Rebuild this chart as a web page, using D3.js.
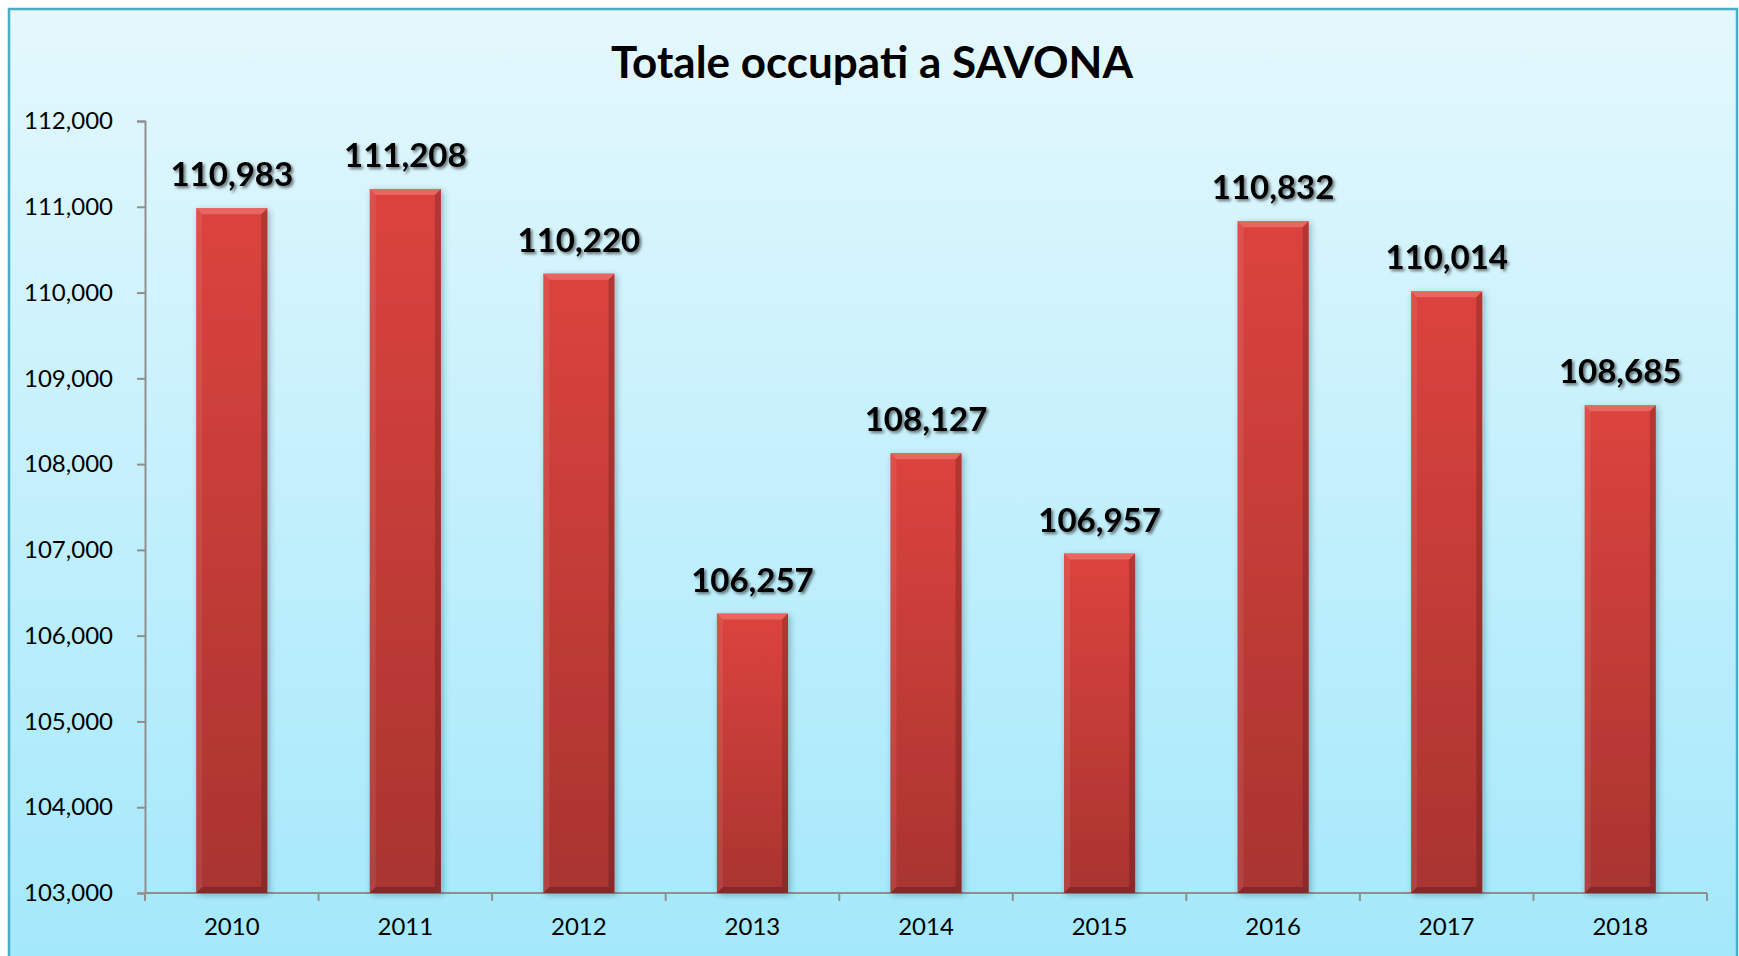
<!DOCTYPE html>
<html lang="it">
<head>
    <meta charset="UTF-8">
    <title>Totale occupati a SAVONA</title>
    <script src="https://cdnjs.cloudflare.com/ajax/libs/d3/7.8.5/d3.min.js"></script>
    <style>
        body {
            margin: 0;
            background: #fff;
            font-family: Lato, "Open Sans", sans-serif;
        }
        .tick-label {
            font-size: 24px;
            fill: #000;
        }
        .value-label {
            font-size: 33px;
            font-weight: bold;
            fill: #000;
        }
    </style>
</head>
<body>
    <div id="chart"></div>

    <script>
        // data
        const years = ["2010", "2011", "2012", "2013", "2014", "2015", "2016", "2017", "2018"];
        const occupati = [110983, 111208, 110220, 106257, 108127, 106957, 110832, 110014, 108685];
        const yTicks = [103000, 104000, 105000, 106000, 107000, 108000, 109000, 110000, 111000, 112000];
        const chartTitle = "Totale occupati a SAVONA";

        const W = 1739, H = 956;
        const plot = {left: 145, right: 1707, top: 121, bottom: 893};

        const svg = d3.select("#chart")
            .append("svg")
            .attr("width", W)
            .attr("height", H);

        const defs = svg.append("defs");

        // background gradient of the chart area
        const bg = defs.append("linearGradient")
            .attr("id", "bg").attr("x1", 0).attr("y1", 0).attr("x2", 0).attr("y2", 1);
        bg.append("stop").attr("offset", "0%").attr("stop-color", "#e4f8fd");
        bg.append("stop").attr("offset", "100%").attr("stop-color", "#a3e8fb");

        // bar face
        const barGrad = defs.append("linearGradient")
            .attr("id", "barGrad").attr("x1", 0).attr("y1", 0).attr("x2", 0).attr("y2", 1);
        barGrad.append("stop").attr("offset", "0%").attr("stop-color", "#dc433e");
        barGrad.append("stop").attr("offset", "100%").attr("stop-color", "#a93430");

        const barShadow = defs.append("filter").attr("id", "barShadow")
            .attr("x", "-20%").attr("y", "-10%").attr("width", "150%").attr("height", "130%");
        barShadow.append("feDropShadow")
            .attr("dx", 2).attr("dy", 2).attr("stdDeviation", 3)
            .attr("flood-color", "#203040").attr("flood-opacity", 0.35);

        const textShadow = defs.append("filter").attr("id", "textShadow")
            .attr("x", "-10%").attr("y", "-20%").attr("width", "130%").attr("height", "150%");
        textShadow.append("feDropShadow")
            .attr("dx", 2).attr("dy", 2).attr("stdDeviation", 1.5)
            .attr("flood-color", "#000").attr("flood-opacity", 0.55);

        const lineShadow = defs.append("filter").attr("id", "lineShadow");
        lineShadow.append("feDropShadow")
            .attr("dx", 0).attr("dy", 1).attr("stdDeviation", 0.6)
            .attr("flood-color", "#000").attr("flood-opacity", 0.25);

        // chart frame
        svg.append("rect")
            .attr("x", 9).attr("y", 9)
            .attr("width", 1728).attr("height", 960)
            .attr("fill", "url(#bg)")
            .attr("stroke", "#4bacc6")
            .attr("stroke-width", 2.5);

        svg.append("text")
            .attr("x", 872)
            .attr("y", 78)
            .attr("text-anchor", "middle")
            .style("font-size", "44px")
            .style("font-weight", "bold")
            .text(chartTitle);

        const x = d3.scaleBand()
            .domain(years)
            .range([plot.left, plot.right])
            .paddingInner(0.59)
            .paddingOuter(0.295);

        const y = d3.scaleLinear()
            .domain([103000, 112000])
            .range([plot.bottom, plot.top]);

        const fmt = d3.format(",");

        // gridlines
        svg.append("g")
            .selectAll("line")
            .data(yTicks.slice(1))
            .join("line")
            .attr("x1", plot.left)
            .attr("x2", plot.right)
            .attr("y1", d => y(d))
            .attr("y2", d => y(d))
            .attr("stroke", "#8c989d")
            .attr("stroke-width", 2)
            .attr("filter", "url(#lineShadow)");

        // y axis
        const yAxis = svg.append("g")
            .attr("transform", `translate(${plot.left},0)`)
            .call(d3.axisLeft(y).tickValues(yTicks).tickFormat(fmt).tickSize(8).tickPadding(24))
            .attr("font-family", null)
            .attr("font-size", null);
        yAxis.select(".domain").attr("stroke", "#8f8f8f").attr("stroke-width", 2);
        yAxis.selectAll(".tick line").attr("stroke", "#8f8f8f").attr("stroke-width", 2);
        yAxis.selectAll(".tick text").attr("class", "tick-label");

        // x axis: ticks at band boundaries
        const step = x.step();
        const boundaries = d3.range(years.length + 1).map(i => plot.left + i * step);
        const xAxis = svg.append("g");
        xAxis.append("line")
            .attr("x1", plot.left).attr("x2", plot.right)
            .attr("y1", plot.bottom).attr("y2", plot.bottom)
            .attr("stroke", "#8f8f8f").attr("stroke-width", 2);
        xAxis.selectAll("line.xt")
            .data(boundaries)
            .join("line")
            .attr("class", "xt")
            .attr("x1", d => d).attr("x2", d => d)
            .attr("y1", plot.bottom).attr("y2", plot.bottom + 8)
            .attr("stroke", "#8f8f8f").attr("stroke-width", 2);
        xAxis.selectAll("text")
            .data(years)
            .join("text")
            .attr("class", "tick-label")
            .attr("x", d => x(d) + x.bandwidth() / 2)
            .attr("y", 935)
            .attr("text-anchor", "middle")
            .text(d => d);

        // bars with a bevel
        const bw = x.bandwidth();
        const bev = 6;
        const bars = svg.append("g")
            .selectAll("g")
            .data(years.map((yr, i) => ({year: yr, value: occupati[i]})))
            .join("g")
            .attr("transform", d => `translate(${x(d.year)},${y(d.value)})`);

        bars.append("rect")
            .attr("width", bw)
            .attr("height", d => plot.bottom - y(d.value))
            .attr("fill", "url(#barGrad)")
            .attr("filter", "url(#barShadow)");

        // top bevel
        bars.append("path")
            .attr("d", `M0,0 L${bw},0 L${bw - bev},${bev} L${bev},${bev} Z`)
            .attr("fill", "#ea6a64")
            .attr("opacity", 0.9);
        // left bevel
        bars.append("path")
            .attr("d", d => {
                const h = plot.bottom - y(d.value);
                return `M0,0 L${bev},${bev} L${bev},${h - bev} L0,${h} Z`;
            })
            .attr("fill", "#ffffff")
            .attr("opacity", 0.08);
        // right bevel
        bars.append("path")
            .attr("d", d => {
                const h = plot.bottom - y(d.value);
                return `M${bw},0 L${bw - bev},${bev} L${bw - bev},${h - bev} L${bw},${h} Z`;
            })
            .attr("fill", "#000000")
            .attr("opacity", 0.18);
        // bottom bevel
        bars.append("path")
            .attr("d", d => {
                const h = plot.bottom - y(d.value);
                return `M0,${h} L${bev},${h - bev} L${bw - bev},${h - bev} L${bw},${h} Z`;
            })
            .attr("fill", "#000000")
            .attr("opacity", 0.22);

        // value labels
        svg.append("g")
            .selectAll("text")
            .data(years.map((yr, i) => ({year: yr, value: occupati[i]})))
            .join("text")
            .attr("class", "value-label")
            .attr("x", d => x(d.year) + bw / 2)
            .attr("y", d => y(d.value) - 22)
            .attr("text-anchor", "middle")
            .attr("filter", "url(#textShadow)")
            .text(d => fmt(d.value));
    </script>
</body>
</html>
